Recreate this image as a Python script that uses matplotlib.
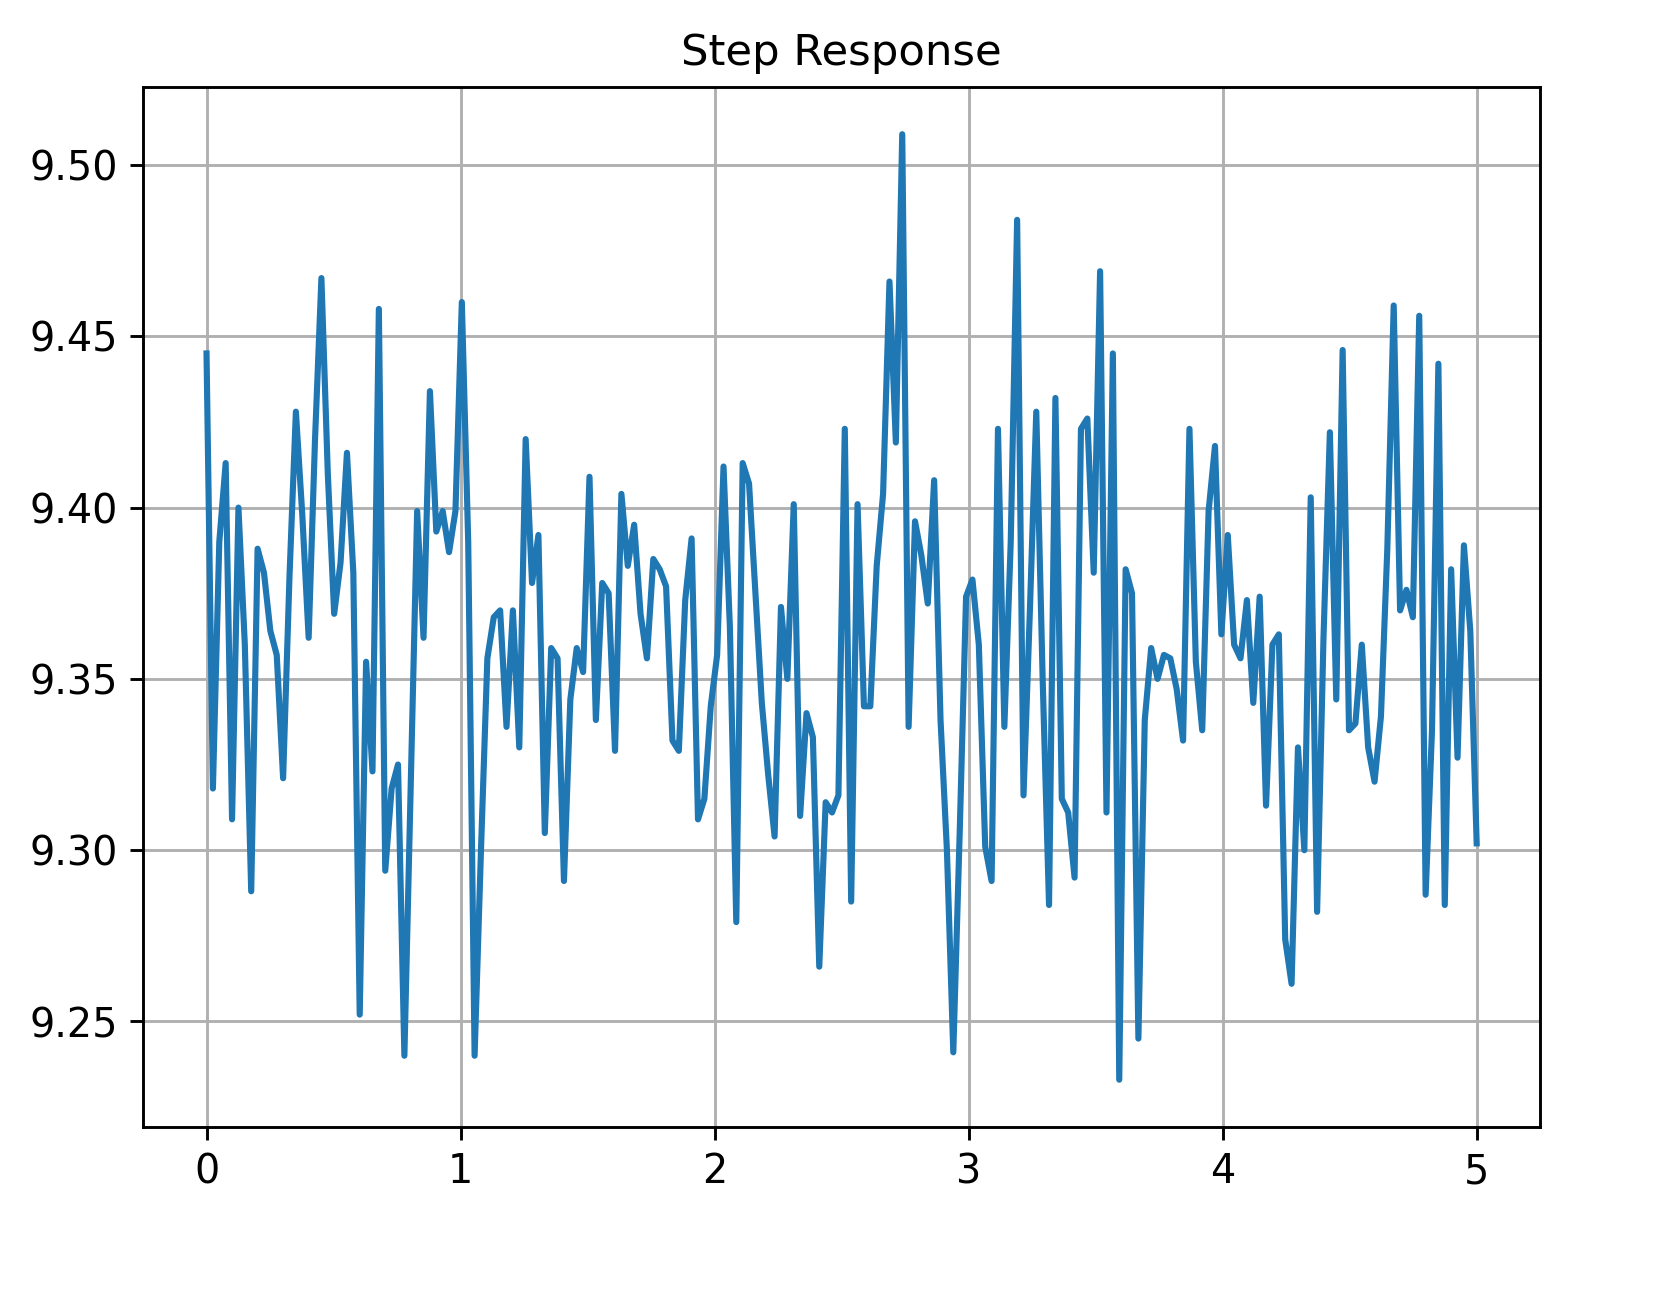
import numpy as np
import matplotlib
matplotlib.use("Agg")
import matplotlib.pyplot as plt

y_vals = [9.445,9.318,9.390,9.413,9.309,9.400,9.360,9.288,9.388,9.381,
9.364,9.357,9.321,9.380,9.428,9.398,9.362,9.420,9.467,9.410,
9.369,9.384,9.416,9.381,9.252,9.355,9.323,9.458,9.294,9.318,
9.325,9.240,9.320,9.399,9.362,9.434,9.393,9.399,9.387,9.399,
9.460,9.390,9.240,9.300,9.356,9.368,9.370,9.336,9.370,9.330,
9.420,9.378,9.392,9.305,9.359,9.356,9.291,9.344,9.359,9.352,
9.409,9.338,9.378,9.375,9.329,9.404,9.383,9.395,9.369,9.356,
9.385,9.382,9.377,9.332,9.329,9.373,9.391,9.309,9.315,9.342,
9.357,9.412,9.365,9.279,9.413,9.407,9.375,9.343,9.322,9.304,
9.371,9.350,9.401,9.310,9.340,9.333,9.266,9.314,9.311,9.316,
9.423,9.285,9.401,9.342,9.342,9.383,9.404,9.466,9.419,9.509,
9.336,9.396,9.386,9.372,9.408,9.338,9.300,9.241,9.305,9.374,
9.379,9.360,9.301,9.291,9.423,9.336,9.390,9.484,9.316,9.370,
9.428,9.350,9.284,9.432,9.315,9.311,9.292,9.423,9.426,9.381,
9.469,9.311,9.445,9.233,9.382,9.375,9.245,9.338,9.359,9.350,
9.357,9.356,9.347,9.332,9.423,9.355,9.335,9.399,9.418,9.363,
9.392,9.360,9.356,9.373,9.343,9.374,9.313,9.360,9.363,9.274,
9.261,9.330,9.300,9.403,9.282,9.362,9.422,9.344,9.446,9.335,
9.337,9.360,9.330,9.320,9.339,9.388,9.459,9.370,9.376,9.368,
9.456,9.287,9.335,9.442,9.284,9.382,9.327,9.389,9.364,9.302]
t = np.linspace(0, 5, len(y_vals))

plt.rcParams['font.size'] = 11
fig = plt.figure(figsize=(6.42, 5.008), dpi=260)
ax = fig.add_axes([143/1669, 1-1127/1302, (1540-143)/1669, (1127-87)/1302])
ax.plot(t, y_vals, color='#1f77b4', linewidth=1.7)
ax.set_title("Step Response", fontsize=12)
ax.grid(True)
fig.savefig("out.png", dpi=260)
